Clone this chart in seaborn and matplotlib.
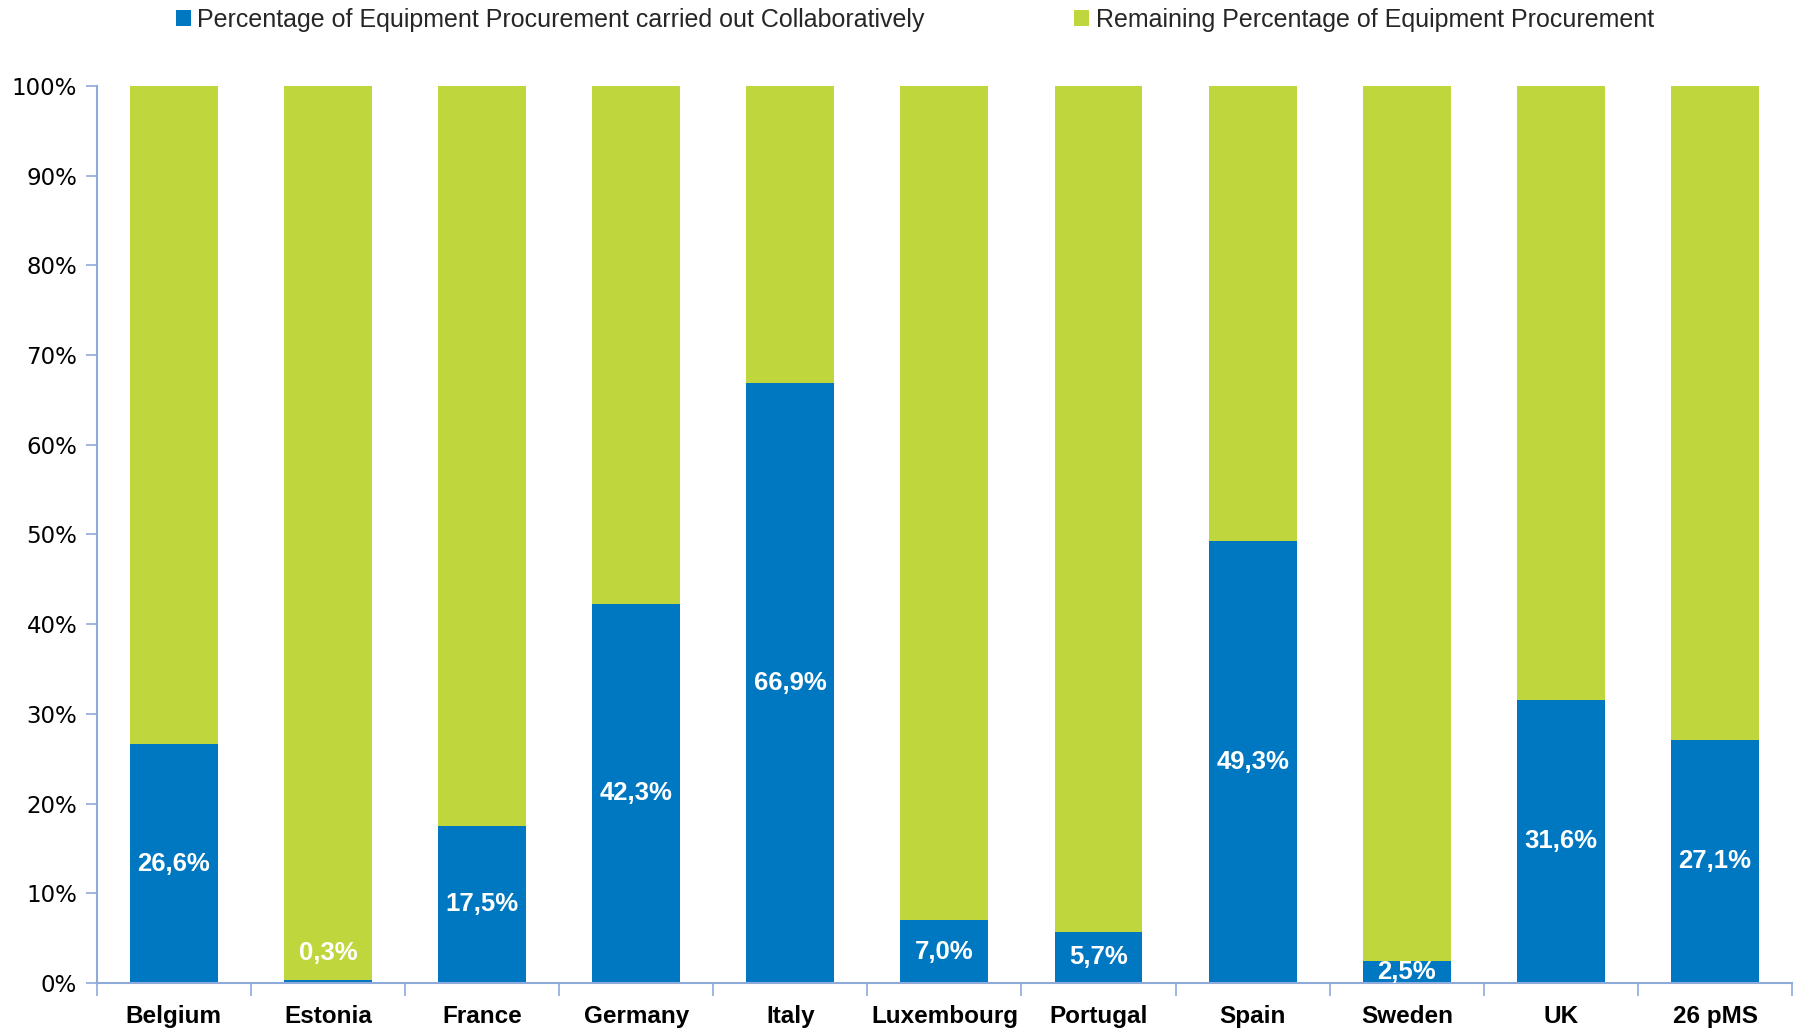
import matplotlib
matplotlib.use("Agg")
import matplotlib.pyplot as plt
import seaborn as sns
import pandas as pd
from matplotlib.patches import Patch
from matplotlib.ticker import FixedLocator, PercentFormatter

countries = ["Belgium", "Estonia", "France", "Germany", "Italy", "Luxembourg",
             "Portugal", "Spain", "Sweden", "UK", "26 pMS"]
collab = [26.6, 0.3, 17.5, 42.3, 66.9, 7.0, 5.7, 49.3, 2.5, 31.6, 27.1]
total = [100] * len(countries)
series_names = ["Percentage of Equipment Procurement carried out Collaboratively",
                "Remaining Percentage of Equipment Procurement"]

BLUE = "#0077C1"
GREEN = "#BFD73C"
AXCOL = "#8EAADB"
NARROW = ["Liberation Sans", "DejaVu Sans"]

sns.set_theme(style="white")
plt.rcParams["font.family"] = ["DejaVu Sans"]

df = pd.DataFrame({"country": countries, "collab": collab, "total": total})

fig = plt.figure(figsize=(18.03, 10.32), dpi=100)
ax = fig.add_axes([0.0536, 0.0475, 0.9404, 0.8692])

sns.barplot(data=df, x="country", y="total", color=GREEN, width=0.57,
            saturation=1, ax=ax, linewidth=0)
sns.barplot(data=df, x="country", y="collab", color=BLUE, width=0.57,
            saturation=1, ax=ax, linewidth=0)

for i, v in enumerate(collab):
    y = v / 2 if v / 2 >= 1 else 3.3
    ax.text(i, y, f"{v:.1f}%".replace(".", ","), ha="center", va="center",
            color="white", fontsize=18.5, fontweight="bold", family=NARROW)

ax.set_xlim(-0.5, len(countries) - 0.5)
ax.set_ylim(0, 100)
ax.set_xlabel("")
ax.set_ylabel("")
ax.yaxis.set_major_locator(FixedLocator(range(0, 101, 10)))
ax.yaxis.set_major_formatter(PercentFormatter(decimals=0))
ax.tick_params(axis="y", which="major", length=8, width=1.2, color=AXCOL,
               labelsize=16.5, pad=6, left=True, direction="out")
ax.tick_params(axis="x", which="major", length=0, pad=16)
for lab in ax.get_xticklabels():
    lab.set_fontfamily(NARROW)
    lab.set_fontsize(17.5)
    lab.set_fontweight("bold")
    lab.set_color("black")
for lab in ax.get_yticklabels():
    lab.set_color("black")
ax.xaxis.set_minor_locator(FixedLocator([i - 0.5 for i in range(len(countries) + 1)]))
ax.tick_params(axis="x", which="minor", length=9, width=1.2, color=AXCOL,
               bottom=True, direction="out")

for s in ["top", "right"]:
    ax.spines[s].set_visible(False)
for s in ["left", "bottom"]:
    ax.spines[s].set_color(AXCOL)
    ax.spines[s].set_linewidth(1.5)
ax.grid(False)

handles = [Patch(facecolor=BLUE, edgecolor="none"), Patch(facecolor=GREEN, edgecolor="none")]
fig.legend(handles, series_names, loc="upper left", bbox_to_anchor=(0.085, 1.014),
           ncol=2, frameon=False, prop={"family": NARROW, "size": 18},
           handlelength=0.6, handleheight=0.6, handletextpad=0.25, columnspacing=6.0)

fig.savefig("out.png", dpi=100)
